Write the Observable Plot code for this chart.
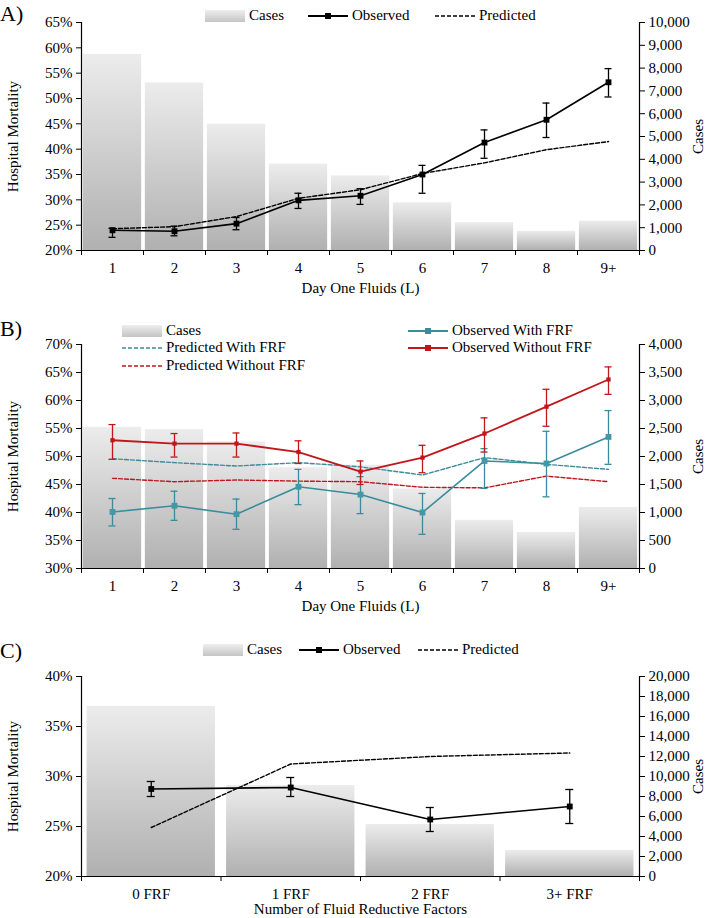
<!DOCTYPE html>
<html>
<head>
<meta charset="utf-8">
<script src="https://cdn.jsdelivr.net/npm/d3@7"></script>
<script src="https://cdn.jsdelivr.net/npm/@observablehq/plot@0.6"></script>
<style>
  body { margin: 0; background: #fff; }
  #root { position: relative; width: 709px; height: 918px; font-family: "Liberation Serif", "Times New Roman", serif; color: #000; overflow: hidden; }
  .panel { position: absolute; left: 0; width: 709px; }
  .layer { position: absolute; left: 0; top: 0; }
  .layer, .layer text { font-family: "Liberation Serif", "Times New Roman", serif !important; font-size: 15px !important; }
  .tag { position: absolute; left: 0; font-size: 22px; line-height: 1; }
  .leg { position: absolute; display: flex; align-items: center; font-size: 15px; line-height: 1; white-space: nowrap; }
  .leg svg { margin-right: 4px; }
</style>
</head>
<body>
<div id="root"></div>
<script>
// ---------------- DATA ----------------
const fluidLabels = ["1", "2", "3", "4", "5", "6", "7", "8", "9+"];

// Panel A
const casesA = [8600, 7350, 5540, 3790, 3270, 2090, 1220, 840, 1290];
const observedA = [24.0, 23.8, 25.3, 29.9, 30.8, 35.0, 41.3, 45.8, 53.2];
const observedALow = [22.6, 22.9, 24.1, 28.3, 29.1, 31.3, 38.2, 42.3, 50.3];
const observedAHigh = [24.4, 24.8, 26.5, 31.3, 32.2, 36.8, 43.8, 49.1, 55.9];
const predictedA = [24.3, 24.7, 26.7, 30.3, 32.0, 35.2, 37.3, 39.9, 41.5];

// Panel B
const casesB = [2520, 2480, 2260, 1800, 1845, 1420, 860, 645, 1090];
const observedWithFRF = [40.1, 41.2, 39.7, 44.6, 43.2, 40.0, 49.2, 48.75, 53.5];
const observedWithFRFLow = [37.6, 38.6, 37.0, 41.4, 39.8, 36.1, 44.3, 42.8, 48.6];
const observedWithFRFHigh = [42.5, 43.8, 42.4, 47.7, 46.4, 43.4, 51.4, 54.5, 58.2];
const observedWithoutFRF = [52.9, 52.3, 52.3, 50.8, 47.3, 49.8, 54.1, 58.9, 63.75];
const observedWithoutFRFLow = [49.5, 49.9, 49.9, 48.75, 45.0, 47.1, 50.8, 55.4, 61.1];
const observedWithoutFRFHigh = [55.7, 54.1, 54.2, 52.8, 49.2, 52.0, 56.9, 62.0, 66.0];
const predictedWithFRF = [49.6, 48.9, 48.3, 48.9, 48.15, 46.7, 49.8, 48.6, 47.7];
const predictedWithoutFRF = [46.1, 45.5, 45.8, 45.6, 45.5, 44.5, 44.4, 46.5, 45.5];

// Panel C
const frfLabels = ["0 FRF", "1 FRF", "2 FRF", "3+ FRF"];
const casesC = [17000, 9100, 5200, 2600];
const observedC = [28.75, 28.9, 25.7, 27.0];
const observedCLow = [28.0, 28.0, 24.5, 25.3];
const observedCHigh = [29.5, 29.9, 26.9, 28.7];
const predictedC = [24.9, 31.25, 32.0, 32.35];

// ---------------- STYLE ----------------
const FONT = '"Liberation Serif", "Times New Roman", serif';
const W = 709, ML = 81, MR = 70;
const TEAL = "#3a8c9c", TEAL_MK = "#4596a6", RED = "#c1161c";

const root = document.getElementById("root");

function addGradient(svg, id) {
  const defs = d3.select(svg).insert("defs", ":first-child");
  const g = defs.append("linearGradient").attr("id", id)
    .attr("x1", 0).attr("y1", 0).attr("x2", 0).attr("y2", 1);
  g.append("stop").attr("offset", "0%").attr("stop-color", "#ececec");
  g.append("stop").attr("offset", "100%").attr("stop-color", "#b0b0b0");
}

function rows(values, low, high) {
  return values.map((v, i) => ({i, v, lo: low ? low[i] : null, hi: high ? high[i] : null}));
}

function observedMarks(data, color, markColor, r, capUnits, sw) {
  return [
    Plot.line(data, {x: "i", y: "v", stroke: color, strokeWidth: sw}),
    Plot.ruleX(data, {x: "i", y1: "lo", y2: "hi", stroke: color, strokeWidth: 1.3}),
    Plot.ruleY(data, {y: "lo", x1: d => d.i - capUnits, x2: d => d.i + capUnits, stroke: color, strokeWidth: 1.3}),
    Plot.ruleY(data, {y: "hi", x1: d => d.i - capUnits, x2: d => d.i + capUnits, stroke: color, strokeWidth: 1.3}),
    Plot.dot(data, {x: "i", y: "v", symbol: "square", r, fill: markColor, stroke: "none"})
  ];
}

function predictedMarks(data, color) {
  return [Plot.line(data, {x: "i", y: "v", stroke: color, strokeWidth: 1.4, strokeDasharray: "4,2"})];
}

function panel(cfg) {
  const {top, height, marginTop, marginBottom, labels, cases, casesMax, casesStep,
         yDomain, yStep, xLabel, pad, gradId, lines, titleOffset} = cfg;
  const n = labels.length;
  const idx = d3.range(n);
  const xDomain = [-0.5, n - 0.5];
  const bars = idx.map(i => ({i, cases: cases[i]}));
  const common = {
    width: W, height, marginLeft: ML, marginRight: MR, marginTop, marginBottom,
    style: {fontFamily: FONT, fontSize: "15px", background: "transparent", color: "#000", overflow: "visible"}
  };

  const div = document.createElement("div");
  div.className = "panel";
  div.style.top = top + "px";
  div.style.height = height + "px";
  root.appendChild(div);

  const bottom = Plot.plot({
    ...common,
    x: {type: "linear", domain: xDomain},
    y: {domain: [0, casesMax]},
    marks: [
      Plot.rectY(bars, {x1: d => d.i - 0.5 + pad, x2: d => d.i + 0.5 - pad, y1: 0, y2: "cases", fill: `url(#${gradId})`}),
      Plot.axisY({anchor: "right", ticks: d3.range(0, casesMax + 1, casesStep), tickFormat: d3.format(","),
                  tickSize: 5, tickPadding: 4, label: "Cases", labelAnchor: "center", labelArrow: "none", labelOffset: 63}),
      Plot.axisX({ticks: d3.range(n + 1).map(k => k - 0.5), tickSize: 5, tickFormat: () => "", label: null}),
      Plot.axisX({ticks: idx, tickSize: 0, tickPadding: 12, tickFormat: i => labels[i],
                  label: xLabel, labelAnchor: "center", labelArrow: "none", labelOffset: titleOffset}),
      Plot.ruleY([0], {stroke: "#000", strokeWidth: 1.2}),
      Plot.ruleX([xDomain[1]], {stroke: "#000", strokeWidth: 1.2})
    ]
  });
  bottom.classList.add("layer");
  addGradient(bottom, gradId);
  div.appendChild(bottom);

  const capUnits = cfg.capPx / ((W - ML - MR) / n);
  const upper = Plot.plot({
    ...common,
    x: {type: "linear", domain: xDomain, axis: null},
    y: {domain: yDomain},
    marks: [
      Plot.axisY({anchor: "left", ticks: d3.range(yDomain[0], yDomain[1] + 0.01, yStep), tickFormat: d => d + "%",
                  tickSize: 5, tickPadding: 4, label: "Hospital Mortality", labelAnchor: "center", labelArrow: "none", labelOffset: 74}),
      Plot.ruleX([xDomain[0]], {stroke: "#000", strokeWidth: 1.2}),
      ...lines(capUnits)
    ]
  });
  upper.classList.add("layer");
  div.appendChild(upper);
  return div;
}

// ---------------- LEGEND HELPERS ----------------
function swatch(kind, color, gradId) {
  if (kind === "bar") {
    return `<svg width="40" height="12"><defs><linearGradient id="${gradId}" x1="0" y1="0" x2="0" y2="1">
      <stop offset="0%" stop-color="#eeeeee"/><stop offset="100%" stop-color="#c4c4c4"/></linearGradient></defs>
      <rect x="0" y="0" width="40" height="12" fill="url(#${gradId})"/></svg>`;
  }
  if (kind === "line") {
    return `<svg width="40" height="12"><line x1="0" x2="40" y1="6" y2="6" stroke="${color}" stroke-width="1.8"/>
      <rect x="17" y="3" width="6" height="6" fill="${color}"/></svg>`;
  }
  return `<svg width="40" height="12"><line x1="0" x2="40" y1="6" y2="6" stroke="${color}" stroke-width="1.5" stroke-dasharray="4,2"/></svg>`;
}
function legendItem(left, top, html, text) {
  const d = document.createElement("div");
  d.className = "leg";
  d.style.left = left + "px";
  d.style.top = (top - 7) + "px";
  d.innerHTML = html + `<span>${text}</span>`;
  root.appendChild(d);
}
function tag(text, top) {
  const d = document.createElement("div");
  d.className = "tag";
  d.style.top = top + "px";
  d.textContent = text;
  root.appendChild(d);
}

// ---------------- PANEL A ----------------
const dObsA = rows(observedA, observedALow, observedAHigh);
const dPredA = rows(predictedA);
panel({
  top: 0, height: 300, marginTop: 22, marginBottom: 50, titleOffset: 42,
  labels: fluidLabels, cases: casesA, casesMax: 10000, casesStep: 1000,
  yDomain: [20, 65], yStep: 5, xLabel: "Day One Fluids (L)", pad: 0.03, gradId: "gA", capPx: 3.5,
  lines: cap => [...predictedMarks(dPredA, "#000"), ...observedMarks(dObsA, "#000", "#000", 3.3, cap, 1.6)]
});
tag("A)", 3);
legendItem(205, 15, swatch("bar", null, "lgA"), "Cases");
legendItem(308, 15, swatch("line", "#000"), "Observed");
legendItem(435, 15, swatch("dash", "#000"), "Predicted");

// ---------------- PANEL B ----------------
const dObsWith = rows(observedWithFRF, observedWithFRFLow, observedWithFRFHigh);
const dObsWithout = rows(observedWithoutFRF, observedWithoutFRFLow, observedWithoutFRFHigh);
const dPredWith = rows(predictedWithFRF);
const dPredWithout = rows(predictedWithoutFRF);
panel({
  top: 300, height: 315, marginTop: 44, marginBottom: 47, titleOffset: 42,
  labels: fluidLabels, cases: casesB, casesMax: 4000, casesStep: 500,
  yDomain: [30, 70], yStep: 5, xLabel: "Day One Fluids (L)", pad: 0.03, gradId: "gB", capPx: 3.5,
  lines: cap => [
    ...predictedMarks(dPredWith, TEAL),
    ...predictedMarks(dPredWithout, RED),
    ...observedMarks(dObsWith, TEAL, TEAL_MK, 3.3, cap, 1.6),
    ...observedMarks(dObsWithout, RED, RED, 2.4, cap, 1.8)
  ]
});
tag("B)", 318);
legendItem(122, 330, swatch("bar", null, "lgB"), "Cases");
legendItem(122, 347, swatch("dash", TEAL), "Predicted With FRF");
legendItem(122, 365, swatch("dash", RED), "Predicted Without FRF");
legendItem(408, 330, swatch("line", TEAL), "Observed With FRF");
legendItem(408, 347, swatch("line", RED), "Observed Without FRF");

// ---------------- PANEL C ----------------
const dObsC = rows(observedC, observedCLow, observedCHigh);
const dPredC = rows(predictedC);
panel({
  top: 614, height: 304, marginTop: 62, marginBottom: 42, titleOffset: 37,
  labels: frfLabels, cases: casesC, casesMax: 20000, casesStep: 2000,
  yDomain: [20, 40], yStep: 5, xLabel: "Number of Fluid Reductive Factors", pad: 0.04, gradId: "gC", capPx: 4,
  lines: cap => [...predictedMarks(dPredC, "#000"), ...observedMarks(dObsC, "#000", "#000", 3.3, cap, 1.6)]
});
tag("C)", 640);
legendItem(203, 649, swatch("bar", null, "lgC"), "Cases");
legendItem(299, 649, swatch("line", "#000"), "Observed");
legendItem(418, 649, swatch("dash", "#000"), "Predicted");
</script>
</body>
</html>
